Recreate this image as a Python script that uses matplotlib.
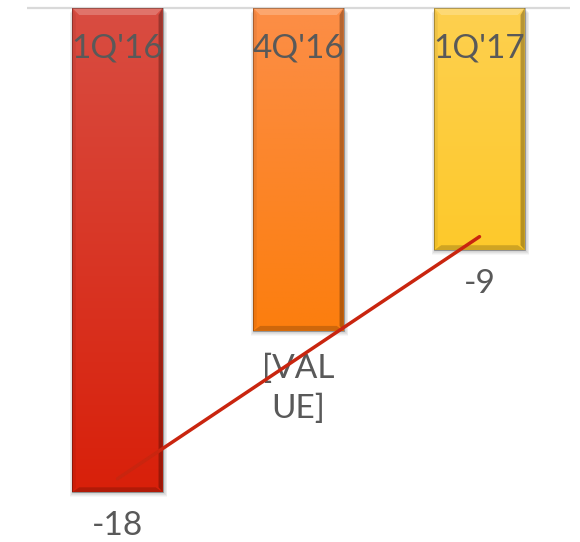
import numpy as np
import matplotlib
matplotlib.use("Agg")
import matplotlib.pyplot as plt
from matplotlib.patches import Rectangle, Polygon
from matplotlib.colors import LinearSegmentedColormap

# Quarterly values
quarters = ["1Q'16", "4Q'16", "1Q'17"]
values = [-18, -12, -9]
value_labels = ["-18", "[VAL\nUE]", "-9"]

# Gradient (top, bottom) per bar
top_colors = ["#d84d42", "#fc8e47", "#fdd04f"]
bottom_colors = ["#d9200a", "#fc7e0e", "#fec92b"]

plt.rcParams["font.family"] = ["Lato", "DejaVu Sans"]

fig = plt.figure(figsize=(5.8, 5.42), dpi=100)
W, H = 580, 542
ax = fig.add_axes([27 / W, 0, (570 - 27) / W, (542 - 8) / H])
ax.set_xlim(-0.5, 2.5)
ax.set_ylim(-19.85, 0)
ax.axis("off")

# pixel sizes in data units
px = 3.0 / (570 - 27)
py = 19.85 / (542 - 8)

x = np.arange(len(values))
width = 0.5

# top baseline
ax.plot([-0.5, 2.5], [0, 0], color="#d9d9d9", lw=1.6, zorder=1,
        solid_capstyle="butt", clip_on=False)

for i, v in enumerate(values):
    x0 = x[i] - width / 2
    x1 = x[i] + width / 2
    # soft shadow
    for k, a in enumerate([0.05, 0.05, 0.04, 0.03]):
        sh = Rectangle((x0 - (k + 1) * px * 0.6, v - (k + 2) * py),
                       width + (k + 2) * px * 1.4, -v + 0.0,
                       facecolor="black", edgecolor="none", alpha=a, zorder=1.5)
        ax.add_patch(sh)
    rect = Rectangle((x0, v), width, -v, facecolor="none", edgecolor="none", zorder=2)
    ax.add_patch(rect)
    cmap = LinearSegmentedColormap.from_list(f"g{i}", [bottom_colors[i], top_colors[i]])
    grad = np.linspace(0, 1, 256).reshape(-1, 1)
    im = ax.imshow(grad, cmap=cmap, origin="lower", aspect="auto",
                   extent=[x0, x1, v, 0], zorder=2)
    im.set_clip_path(rect)

    b = 7  # bevel size in px
    bx, by = b * px, b * py
    # top bevel (lighter)
    ax.add_patch(Polygon([(x0, 0), (x1, 0), (x1 - bx, -by), (x0 + bx, -by)],
                         facecolor="white", alpha=0.22, edgecolor="none", zorder=2.2))
    # bottom bevel (darker)
    ax.add_patch(Polygon([(x0, v), (x1, v), (x1 - bx, v + by * 0.7), (x0 + bx, v + by * 0.7)],
                         facecolor="black", alpha=0.18, edgecolor="none", zorder=2.2))
    # right bevel (dark)
    ax.add_patch(Polygon([(x1, 0), (x1, v), (x1 - bx * 0.6, v + by * 0.7), (x1 - bx * 0.6, -by)],
                         facecolor="black", alpha=0.28, edgecolor="none", zorder=2.2))
    # left bevel (slight)
    ax.add_patch(Polygon([(x0, 0), (x0, v), (x0 + bx * 0.5, v + by * 0.7), (x0 + bx * 0.5, -by)],
                         facecolor="black", alpha=0.06, edgecolor="none", zorder=2.2))
    ax.add_patch(Rectangle((x0, v), width, -v, facecolor="none",
                           edgecolor="#000000", lw=0.6, alpha=0.35, zorder=2.3))

    # category label inside top of bar
    ax.text(x[i], -40 * py, quarters[i], ha="center", va="center",
            fontsize=24, color="#595959", zorder=3)
    # value label below bar
    if "\n" in value_labels[i]:
        ax.text(x[i], v - 58 * py, value_labels[i], ha="center", va="center",
                fontsize=24, color="#595959", linespacing=1.4, zorder=3)
    else:
        ax.text(x[i], v - 34 * py, value_labels[i], ha="center", va="center",
                fontsize=24, color="#595959", zorder=3)

# linear trend
coef = np.polyfit(x, values, 1)
tx = np.array([x[0], x[-1]])
ax.plot(tx, np.polyval(coef, tx), color="#c9250f", lw=2.5, zorder=4,
        solid_capstyle="round")

fig.savefig("out.png", dpi=100)
